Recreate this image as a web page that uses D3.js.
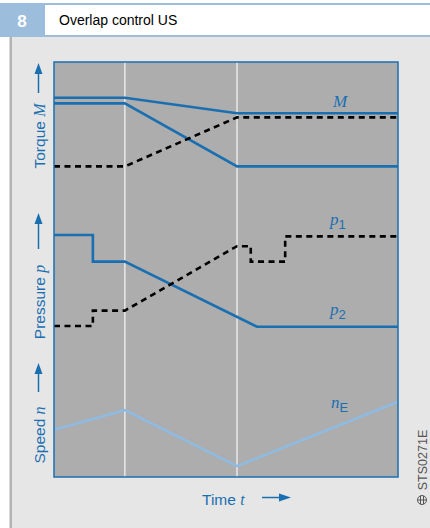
<!DOCTYPE html>
<html>
<head>
<meta charset="utf-8">
<script src="https://cdn.jsdelivr.net/npm/d3@7"></script>
<style>
  html, body { margin: 0; padding: 0; background: #ffffff; }
  svg { display: block; }
</style>
</head>
<body>
<script>
// Time axis (arbitrary units); phase boundaries where the clutches hand over
const phaseMarks = [20.6, 53.2];

// Torque M: two solid clutch torques and the dashed output torque
const torqueA  = [{t: 0, v: 7.3}, {t: 20.6, v: 7.3}, {t: 53.2, v: 6.2}, {t: 100, v: 6.2}];
const torqueB  = [{t: 0, v: 6.9}, {t: 20.6, v: 6.9}, {t: 53.2, v: 2.4}, {t: 100, v: 2.4}];
const torqueOut = [{t: 0, v: 2.4}, {t: 20.6, v: 2.4}, {t: 53.2, v: 5.9}, {t: 100, v: 5.9}];

// Pressure p: p1 (dashed) rises, p2 (solid) falls
const pressure1 = [
  {t: 0, v: 1.0}, {t: 11.3, v: 1.0}, {t: 11.3, v: 2.1}, {t: 20.6, v: 2.1},
  {t: 53.2, v: 6.7}, {t: 57.2, v: 6.7}, {t: 57.2, v: 5.6}, {t: 67.2, v: 5.6},
  {t: 67.2, v: 7.4}, {t: 100, v: 7.4}
];
const pressure2 = [
  {t: 0, v: 7.5}, {t: 11.3, v: 7.5}, {t: 11.3, v: 5.6}, {t: 20.6, v: 5.6},
  {t: 59.0, v: 0.95}, {t: 100, v: 0.95}
];

// Engine speed n_E
const speedE = [{t: 0, v: 3.3}, {t: 20.6, v: 4.7}, {t: 53.2, v: 0.7}, {t: 100, v: 5.3}];

const W = 430, H = 528;
const blue = "#1a6fb1", lightBlue = "#8fbbe3", headerBlue = "#9dbddc";

const svg = d3.select("body").append("svg").attr("width", W).attr("height", H);

// Page background and header
svg.append("rect").attr("x", 0).attr("y", 0).attr("width", W).attr("height", H).attr("fill", "#ffffff");
svg.append("rect").attr("x", 10).attr("y", 37).attr("width", W - 10).attr("height", H - 37).attr("fill", "#e6e6e6");
svg.append("rect").attr("x", 9.5).attr("y", 37).attr("width", 2.5).attr("height", H - 37).attr("fill", "#b3b3b3");
svg.append("rect").attr("x", 0).attr("y", 3).attr("width", W).attr("height", 2).attr("fill", headerBlue);
svg.append("rect").attr("x", 0).attr("y", 35).attr("width", W).attr("height", 2).attr("fill", headerBlue);
svg.append("rect").attr("x", 0).attr("y", 3).attr("width", 45).attr("height", 34).attr("fill", headerBlue);
svg.append("text").attr("x", 22).attr("y", 27).attr("text-anchor", "middle")
  .attr("font-family", "Liberation Sans, Arial, sans-serif").attr("font-weight", "bold")
  .attr("font-size", 17).attr("fill", "#ffffff").text("8");
svg.append("text").attr("x", 59).attr("y", 25)
  .attr("font-family", "Liberation Sans, Arial, sans-serif")
  .attr("font-size", 14).attr("fill", "#000000").text("Overlap control US");

// Plot area
const plot = {left: 54, right: 398, top: 62, bottom: 477};
const x = d3.scaleLinear().domain([0, 100]).range([plot.left, plot.right]);
const yTorque = d3.scaleLinear().domain([0, 10]).range([200, 60]);
const yPressure = d3.scaleLinear().domain([0, 10]).range([340, 200]);
const ySpeed = d3.scaleLinear().domain([0, 10]).range([476, 336]);

svg.append("rect").attr("x", plot.left).attr("y", plot.top)
  .attr("width", plot.right - plot.left).attr("height", plot.bottom - plot.top)
  .attr("fill", "#adadad");

// Phase boundary lines
svg.selectAll("line.phase").data(phaseMarks).join("line").attr("class", "phase")
  .attr("x1", d => x(d)).attr("x2", d => x(d))
  .attr("y1", plot.top).attr("y2", plot.bottom)
  .attr("stroke", "#f2f2f2").attr("stroke-width", 1.3);

function drawSeries(data, yScale, style) {
  const line = d3.line().x(d => x(d.t)).y(d => yScale(d.v));
  svg.append("path").datum(data).attr("d", line)
    .attr("fill", "none")
    .attr("stroke", style.color)
    .attr("stroke-width", style.width)
    .attr("stroke-dasharray", style.dash || null)
    .attr("stroke-linejoin", "miter");
}

const solid = {color: blue, width: 2.6};
const dashed = {color: "#000000", width: 2.6, dash: "6,4.5"};

drawSeries(torqueA, yTorque, solid);
drawSeries(torqueB, yTorque, solid);
drawSeries(torqueOut, yTorque, dashed);
drawSeries(pressure2, yPressure, solid);
drawSeries(pressure1, yPressure, dashed);
drawSeries(speedE, ySpeed, {color: lightBlue, width: 2.6});

// Frame
svg.append("rect").attr("x", plot.left).attr("y", plot.top)
  .attr("width", plot.right - plot.left).attr("height", plot.bottom - plot.top)
  .attr("fill", "none").attr("stroke", blue).attr("stroke-width", 1.5);

// Series labels
const serif = "Liberation Serif, Times New Roman, serif";
const sans = "Liberation Sans, Arial, sans-serif";
function varLabel(px, py, main, sub, subFont) {
  const t = svg.append("text").attr("x", px).attr("y", py).attr("fill", blue);
  t.append("tspan").attr("font-family", serif).attr("font-style", "italic")
    .attr("font-size", 17).text(main);
  if (sub) {
    t.append("tspan").attr("font-family", subFont || sans).attr("font-size", 13)
      .attr("dy", 4).text(sub);
  }
}
varLabel(333, 107, "M");
varLabel(330, 225, "p", "1");
varLabel(330, 315, "p", "2");
varLabel(331, 408, "n", "E");

// Rotated axis titles with upward arrows
function axisTitle(cy, word, sym, arrowTop, arrowBottom) {
  const t = svg.append("text")
    .attr("transform", `translate(45,${cy}) rotate(-90)`)
    .attr("text-anchor", "middle").attr("fill", blue).attr("font-size", 15.5);
  t.append("tspan").attr("font-family", sans).text(word + " ");
  t.append("tspan").attr("font-family", serif).attr("font-style", "italic").attr("font-size", 16).text(sym);
  svg.append("line").attr("x1", 38.5).attr("x2", 38.5)
    .attr("y1", arrowBottom).attr("y2", arrowTop + 8)
    .attr("stroke", blue).attr("stroke-width", 1.5);
  svg.append("path")
    .attr("d", `M38.5,${arrowTop} L42.5,${arrowTop + 11} L34.5,${arrowTop + 11} Z`)
    .attr("fill", blue);
}
axisTitle(136, "Torque", "M", 63, 93);
axisTitle(302, "Pressure", "p", 213, 249);
axisTitle(435, "Speed", "n", 363, 392);

// Time axis title with arrow
const tt = svg.append("text").attr("x", 202).attr("y", 505).attr("fill", blue).attr("font-size", 15.5);
tt.append("tspan").attr("font-family", sans).text("Time ");
tt.append("tspan").attr("font-family", serif).attr("font-style", "italic").attr("font-size", 16).text("t");
svg.append("line").attr("x1", 262).attr("x2", 282).attr("y1", 497.5).attr("y2", 497.5)
  .attr("stroke", blue).attr("stroke-width", 1.5);
svg.append("path").attr("d", "M291,497.5 L279,493.5 L279,501.5 Z").attr("fill", blue);

// Figure code
svg.append("text").attr("transform", "translate(427,460) rotate(-90)")
  .attr("text-anchor", "middle").attr("font-family", sans).attr("font-size", 12.5)
  .attr("fill", "#555555").text("STS0271E");
const logo = svg.append("g").attr("transform", "translate(422,500)")
  .attr("fill", "none").attr("stroke", "#555555").attr("stroke-width", 1);
logo.append("circle").attr("r", 4.5);
logo.append("line").attr("x1", -4.5).attr("x2", 4.5).attr("y1", 0).attr("y2", 0);
logo.append("line").attr("x1", -1.5).attr("x2", -1.5).attr("y1", -4).attr("y2", 4);
logo.append("line").attr("x1", 1.5).attr("x2", 1.5).attr("y1", -4).attr("y2", 4);
</script>
</body>
</html>
